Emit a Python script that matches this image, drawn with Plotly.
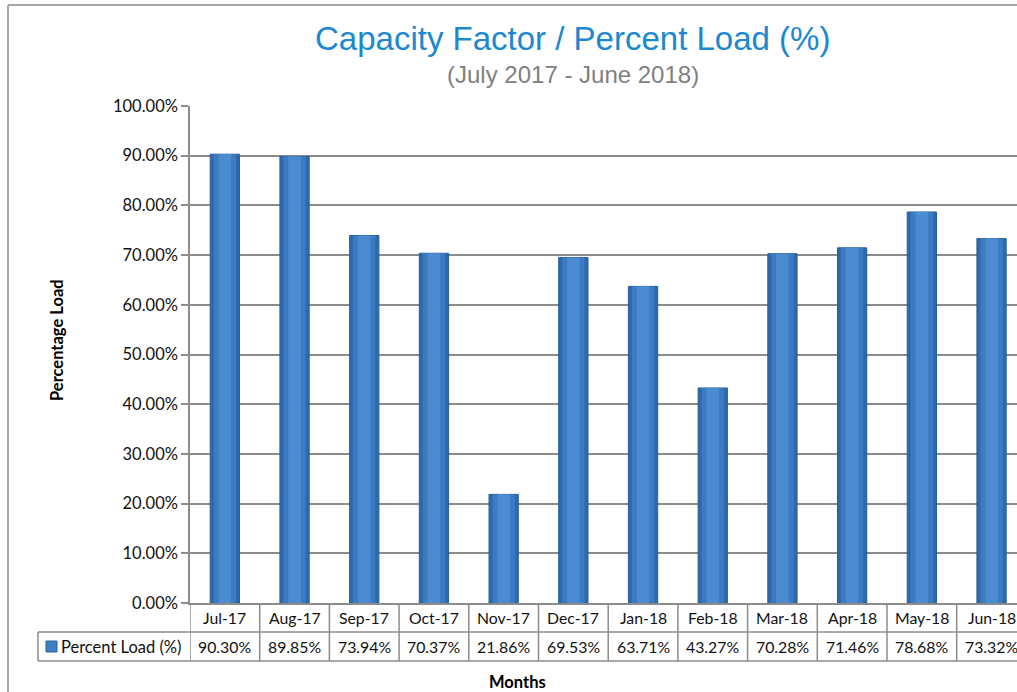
import plotly.graph_objects as go

months = ["Jul-17", "Aug-17", "Sep-17", "Oct-17", "Nov-17", "Dec-17",
          "Jan-18", "Feb-18", "Mar-18", "Apr-18", "May-18", "Jun-18"]
percent_load = [90.30, 89.85, 73.94, 70.37, 21.86, 69.53,
                63.71, 43.27, 70.28, 71.46, 78.68, 73.32]
series_name = "Percent Load (%)"
title = "Capacity Factor / Percent Load (%)"
subtitle = "(July 2017 - June 2018)"
y_ticks = [i / 10 for i in range(11)]

W, H = 1017, 692
L, R, T, B = 190, 0, 106, 89
PW, PH = W - L - R, H - T - B

def px(xp):
    return (xp - L) / PW

def py(yp):
    return (H - B - yp) / PH

FONT = "Lato"
FS = 16.5
FT = 15.8
GRAY = "#8c8c8c"

fig = go.Figure()
xs = list(range(len(months)))
ys = [v / 100 for v in percent_load]
# layered bars to imitate the cylindrical shading
for w, c, lc in [(0.42, "#2f69ad", "#2a5d98"), (0.32, "#3c7bc2", None), (0.18, "#4b8bd0", None)]:
    fig.add_trace(go.Bar(
        x=xs, y=ys, width=w, name=series_name,
        marker=dict(color=c, line=dict(color=lc or c, width=1 if lc else 0)),
        showlegend=False, hoverinfo="skip" if lc is None else None,
    ))

shapes = []
annotations = []

# frame
shapes.append(dict(type="line", xref="paper", yref="paper", x0=px(8), x1=px(8),
                   y0=py(700), y1=py(5), line=dict(color="#a6a6a6", width=2)))
shapes.append(dict(type="line", xref="paper", yref="paper", x0=px(8), x1=px(1025),
                   y0=py(5), y1=py(5), line=dict(color="#a6a6a6", width=2)))

# data table
row1, row2 = py(632), py(661)
n = len(months)
for i in range(n + 1):
    shapes.append(dict(type="line", xref="x", yref="paper", x0=i - 0.5, x1=i - 0.5,
                       y0=0, y1=row2, line=dict(color=GRAY, width=1.5)))
shapes.append(dict(type="line", xref="paper", yref="paper", x0=px(38), x1=1.02,
                   y0=row1, y1=row1, line=dict(color=GRAY, width=1.5)))
shapes.append(dict(type="line", xref="paper", yref="paper", x0=px(38), x1=1.02,
                   y0=row2, y1=row2, line=dict(color=GRAY, width=1.5)))
shapes.append(dict(type="line", xref="paper", yref="paper", x0=px(38), x1=px(38),
                   y0=row1, y1=row2, line=dict(color=GRAY, width=1.5)))
# legend key
shapes.append(dict(type="rect", xref="paper", yref="paper", x0=px(46), x1=px(57),
                   y0=py(652), y1=py(641), fillcolor="#3f7fc6",
                   line=dict(color="#2c5f9c", width=1)))

for i, (m, v) in enumerate(zip(months, percent_load)):
    annotations.append(dict(x=i, y=(0 + row1) / 2, xref="x", yref="paper", text=m,
                            showarrow=False, font=dict(family=FONT, size=FT, color="#111"),
                            xanchor="center", yanchor="middle"))
    annotations.append(dict(x=i, y=(row1 + row2) / 2, xref="x", yref="paper",
                            text=f"{v:.2f}%", showarrow=False,
                            font=dict(family=FONT, size=FT, color="#111"),
                            xanchor="center", yanchor="middle"))
annotations.append(dict(x=px(59), y=(row1 + row2) / 2, xref="paper", yref="paper",
                        text=series_name, showarrow=False,
                        font=dict(family=FONT, size=FS, color="#111"),
                        xanchor="left", yanchor="middle"))

# titles
annotations.append(dict(x=px(572), y=py(39), xref="paper", yref="paper", text=title,
                        showarrow=False, font=dict(family="Liberation Sans", size=33, color="#1c88cf"),
                        xanchor="center", yanchor="middle"))
annotations.append(dict(x=px(573), y=py(74), xref="paper", yref="paper", text=subtitle,
                        showarrow=False, font=dict(family="Liberation Sans", size=24, color="#808080"),
                        xanchor="center", yanchor="middle"))
annotations.append(dict(x=px(57), y=py(340), xref="paper", yref="paper",
                        text="<b>Percentage Load</b>", showarrow=False, textangle=-90,
                        font=dict(family=FONT, size=FS, color="#000"),
                        xanchor="center", yanchor="middle"))
annotations.append(dict(x=px(517), y=py(682), xref="paper", yref="paper",
                        text="<b>Months</b>", showarrow=False,
                        font=dict(family=FONT, size=FS, color="#000"),
                        xanchor="center", yanchor="middle"))

fig.update_layout(
    width=W, height=H,
    margin=dict(l=L, r=R, t=T, b=B),
    paper_bgcolor="white", plot_bgcolor="white",
    barmode="overlay",
    shapes=shapes, annotations=annotations,
    xaxis=dict(range=[-0.5, -0.5 + PW / 69.7], showticklabels=False, showgrid=False,
               zeroline=False, showline=True, linecolor=GRAY, linewidth=1.5, ticks=""),
    yaxis=dict(range=[0, 1], tickvals=y_ticks, tickformat=".2%", showgrid=True,
               gridcolor=GRAY, gridwidth=1.5, zeroline=False, showline=True,
               linecolor=GRAY, linewidth=1.5, ticks="outside", ticklen=7,
               tickcolor=GRAY, tickwidth=1.5,
               tickfont=dict(family=FONT, size=FS, color="#111")),
)

fig.write_html("out.html", config={"displayModeBar": False},
               post_script="document.body.style.margin='0';document.body.style.overflow='hidden';")
